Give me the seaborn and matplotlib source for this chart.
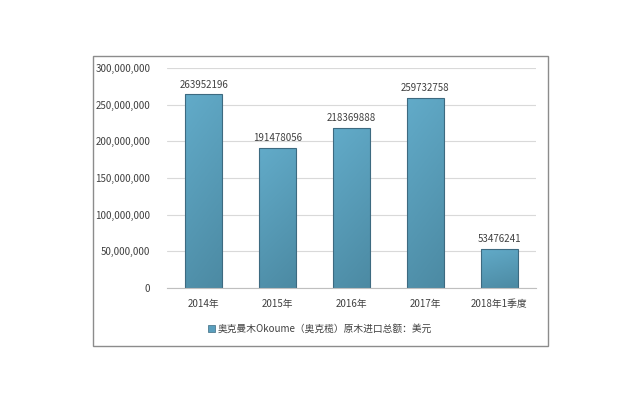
import numpy as np
import pandas as pd
import matplotlib
matplotlib.use("Agg")
import matplotlib.pyplot as plt
from matplotlib.colors import LinearSegmentedColormap
from matplotlib.patches import Rectangle
from matplotlib.ticker import FuncFormatter
import seaborn as sns

# data
years = ["2014年", "2015年", "2016年", "2017年", "2018年1季度"]
values = [263952196, 191478056, 218369888, 259732758, 53476241]
series_name = "奥克曼木Okoume（奥克榄）原木进口总额：美元"

df = pd.DataFrame({"year": years, "value": values})

sns.set_theme(style="white")
plt.rcParams['font.family'] = ['Noto Sans CJK SC', 'DejaVu Sans']

text_col = "#404040"

fig = plt.figure(figsize=(6.4, 4), dpi=100)
ax = fig.add_axes([0.261, 0.28, 0.5765, 0.55])

sns.barplot(data=df, x="year", y="value", color="#5a9fbe", width=0.5,
            edgecolor="#3d6a80", linewidth=0.8, ax=ax)

# gradient fill inside each bar
cmap = LinearSegmentedColormap.from_list("bar", ["#62abc9", "#4c8aa3"])
grad = np.linspace(0, 1, 256).reshape(-1, 1)
grad = grad + np.linspace(0, 0.25, 32).reshape(1, -1)
for p in ax.patches:
    x0, y0 = p.get_x(), p.get_y()
    w, h = p.get_width(), p.get_height()
    im = ax.imshow(grad, cmap=cmap, aspect="auto", extent=[x0, x0 + w, y0, y0 + h],
                   origin="upper", zorder=p.get_zorder() - 0.1, vmin=0, vmax=1.25)
    im.set_clip_path(p)
    p.set_facecolor("none")

for p, v in zip(ax.patches, values):
    ax.text(p.get_x() + p.get_width() / 2, v + 6e6, str(v), ha="center", va="bottom",
            fontsize=7, color=text_col)

ax.set_xlim(-0.5, 4.5)
ax.set_ylim(0, 300000000)
ax.set_yticks(np.arange(0, 300000001, 50000000))
ax.yaxis.set_major_formatter(FuncFormatter(lambda v, _: f"{int(v):,}"))
ax.yaxis.grid(True, color="#d9d9d9", linewidth=0.8)
ax.set_axisbelow(True)
ax.set_xlabel("")
ax.set_ylabel("")
for s in ["left", "right", "top"]:
    ax.spines[s].set_visible(False)
ax.spines["bottom"].set_color("#bfbfbf")
ax.spines["bottom"].set_linewidth(0.8)
ax.tick_params(axis="both", length=0, labelsize=7, colors=text_col)
ax.tick_params(axis="y", pad=12)
ax.tick_params(axis="x", pad=8)

handle = Rectangle((0, 0), 1, 1, facecolor="#5a9fbe", edgecolor="#3d6a80", linewidth=0.5)
fig.legend(handles=[handle], labels=[series_name], loc="center",
           bbox_to_anchor=(0.5, 0.178), frameon=False, fontsize=7,
           handlelength=0.7, handleheight=0.7, handletextpad=0.3,
           labelcolor=text_col)

# outer frame
fig.patches.append(Rectangle((0.145, 0.135), 0.711, 0.725, transform=fig.transFigure,
                             fill=False, edgecolor="#8c8c8c", linewidth=1))

fig.savefig("out.png", dpi=100)
